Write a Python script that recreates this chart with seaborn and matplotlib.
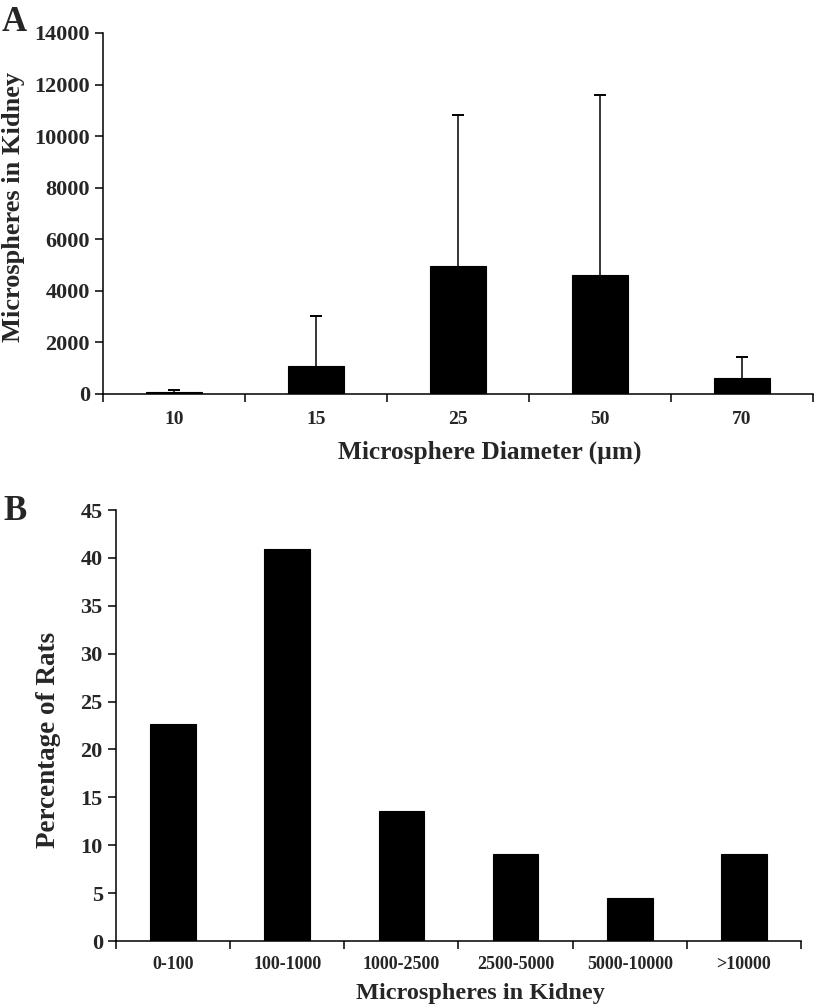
import matplotlib
matplotlib.use("Agg")
import matplotlib.pyplot as plt
import seaborn as sns
import numpy as np

# Panel A data: microspheres lodged in kidney by diameter
diameters = ["10", "15", "25", "50", "70"]
mean_count = [75, 1090, 4950, 4615, 600]
sd_count = [95, 1935, 5870, 6980, 850]

# Panel B data: distribution of rats by microsphere count
count_bins = ["0-100", "100-1000", "1000-2500", "2500-5000", "5000-10000", ">10000"]
pct_rats = [22.7, 40.9, 13.6, 9.1, 4.5, 9.1]

sns.set_style("ticks")
plt.rcParams["font.family"] = ["Liberation Serif", "DejaVu Serif"]
plt.rcParams["font.weight"] = "bold"
plt.rcParams["axes.labelweight"] = "bold"

fig = plt.figure(figsize=(8.15, 10.06), dpi=100)
axA = fig.add_axes([0.1264, 0.6084, 0.8711, 0.3588])
axB = fig.add_axes([0.1423, 0.0646, 0.8405, 0.4284])


def style_axis(ax, n):
    ax.set_xlim(-0.5, n - 0.5)
    ax.set_xticks(np.arange(n))
    ax.set_xticks(np.arange(n + 1) - 0.5, minor=True)
    ax.tick_params(axis="x", which="major", length=0)
    ax.tick_params(axis="x", which="minor", length=6, width=1.1, direction="out", color="black")
    ax.tick_params(axis="y", length=6, width=1.1, direction="out", color="black", labelsize=16)
    for s in ["top", "right"]:
        ax.spines[s].set_visible(False)
    for s in ["left", "bottom"]:
        ax.spines[s].set_linewidth(1.1)
        ax.spines[s].set_color("black")
    ax.set_xlabel("")
    ax.set_ylabel("")


# Panel A
sns.barplot(x=diameters, y=mean_count, color="black", width=0.4,
            saturation=1, errorbar=None, ax=axA, zorder=3,
            edgecolor="black", linewidth=0.8)
xpos = np.arange(len(diameters))
tops = np.array(mean_count) + np.array(sd_count)
axA.vlines(xpos, mean_count, tops, color="black", linewidth=1.1, zorder=2)
axA.plot(xpos, tops, linestyle="none", marker="_", markersize=8.6,
         markeredgewidth=1.4, color="black", zorder=2)
style_axis(axA, len(diameters))
axA.set_ylim(0, 14000)
axA.set_yticks(np.arange(0, 14001, 2000))
axA.tick_params(axis="x", labelsize=14, pad=12)
fig.text(0.601, 0.5507, "Microsphere Diameter (µm)", fontsize=18.3,
         fontweight="bold", ha="center", va="center")
fig.text(0.016, 0.7942, "Microspheres in Kidney", fontsize=19,
         fontweight="bold", ha="center", va="center", rotation=90)
fig.text(0.002, 0.994, "A", fontsize=25, fontweight="bold", va="top", ha="left")

# Panel B
sns.barplot(x=count_bins, y=pct_rats, color="black", width=0.4,
            saturation=1, errorbar=None, ax=axB,
            edgecolor="black", linewidth=0.8)
style_axis(axB, len(count_bins))
axB.set_ylim(0, 45)
axB.set_yticks(np.arange(0, 46, 5))
axB.tick_params(axis="x", labelsize=13, pad=11)
fig.text(0.590, 0.0129, "Microspheres in Kidney", fontsize=17.5,
         fontweight="bold", ha="center", va="center")
fig.text(0.060, 0.2644, "Percentage of Rats", fontsize=19.5,
         fontweight="bold", ha="center", va="center", rotation=90)
fig.text(0.004, 0.508, "B", fontsize=25, fontweight="bold", va="top", ha="left")

fig.savefig("out.png", dpi=100, facecolor="white")
